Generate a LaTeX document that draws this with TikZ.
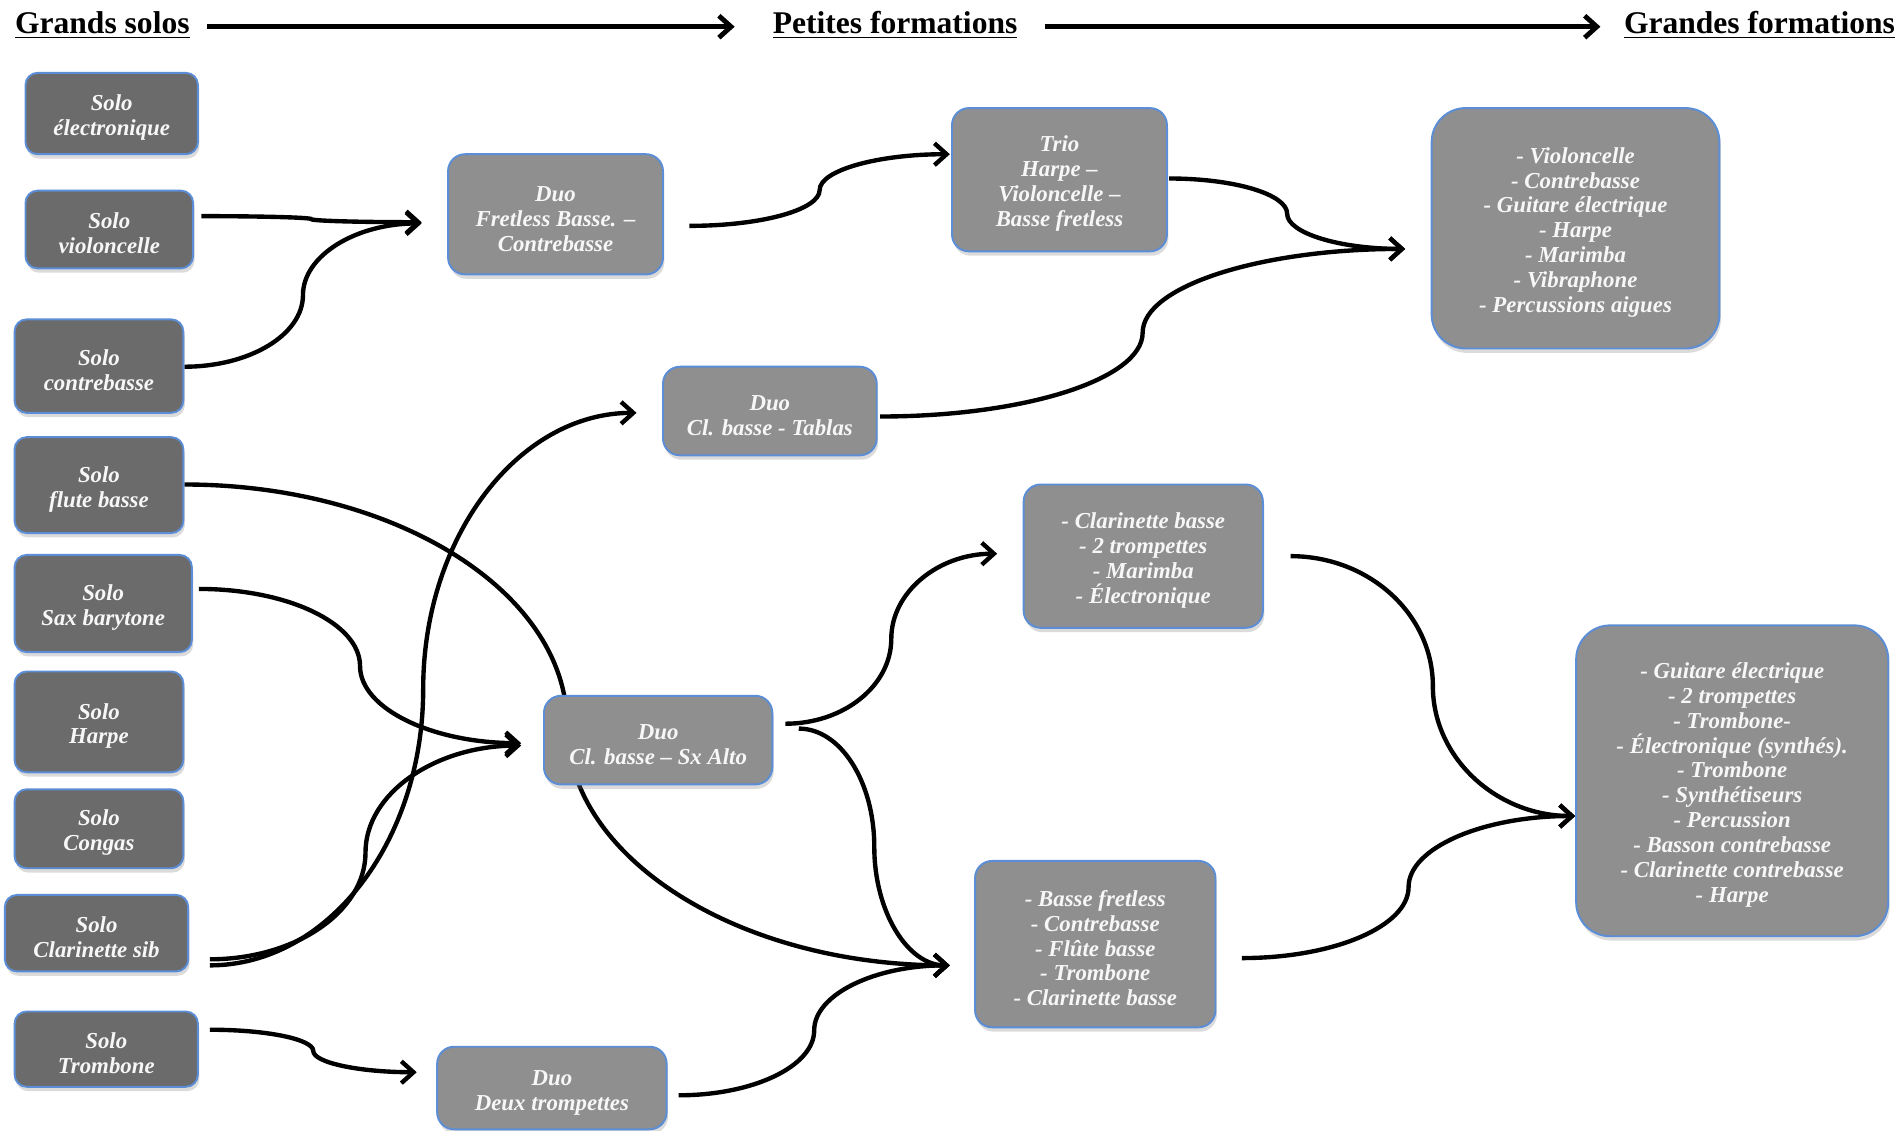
\documentclass[tikz,border=0pt]{standalone}
\usepackage{fontspec}
\setmainfont{Liberation Serif}
\usetikzlibrary{arrows.meta,shadows,calc}
\definecolor{darkbox}{HTML}{6B6B6B}
\definecolor{lightbox}{HTML}{8F8F8F}
\definecolor{boxborder}{HTML}{5B8ED6}
\definecolor{boxtext}{HTML}{F7F7F7}
\newcommand\tu{\rule{0pt}{9.9pt}}
\pgfdeclarelayer{bg}
\pgfdeclarelayer{conns}
\pgfsetlayers{bg,conns,main}
\begin{document}
\begin{tikzpicture}[x=0.5pt,y=-0.5pt,
  sz/.style 2 args={minimum width=#1*0.5pt, minimum height=#2*0.5pt},
  boxbase/.style={draw=boxborder, line width=0.8pt, text=boxtext, align=center,
     font=\fontsize{9.4}{10.25}\selectfont\bfseries\itshape, inner sep=0pt,
     drop shadow={shadow xshift=0.6pt, shadow yshift=-1.8pt, opacity=0.28}},
  solobox/.style={boxbase, fill=darkbox, rounded corners=5pt},
  duobox/.style={boxbase, fill=lightbox, rounded corners=7pt},
  bigbox/.style={boxbase, fill=lightbox, rounded corners=14pt},
  conn/.style={line width=1.8pt, -{Straight Barb[length=5pt,width=9pt]},
    to path={let \p1=(\tikztostart), \p2=(\tikztotarget), \p3=($(\p1)!0.5!(\p2)$) in
      .. controls ($(\p1)!0.5523!(\x3,\y1)$) and ($(\p3)!0.5523!(\x3,\y1)$) .. (\p3)
      .. controls ($(\p3)!0.5523!(\x3,\y2)$) and ($(\p2)!0.5523!(\x3,\y2)$) .. (\p2) \tikztonodes}},
  header/.style={font=\fontsize{13}{15}\selectfont\bfseries, inner sep=0pt, anchor=base west},
  headarrow/.style={line width=2pt, -{Straight Barb[length=5pt,width=9pt]}},
]
\useasboundingbox (0,0) rectangle (1568,931);
\begin{pgfonlayer}{bg}
  \fill[white] (0,0) rectangle (1568,931);
\end{pgfonlayer}

% headers
\node[header] (h1) at (12,28) {\underline{Grands solos}};
\node[header] (h2) at (636,28) {\underline{Petites formations}};
\node[header] (h3) at (1337,28) {\underline{Grandes formations}};
\draw[headarrow] ($(h1.base east)+(14,-6)$) -- ($(h2.base west)+(-31,-6)$);
\draw[headarrow] ($(h2.base east)+(22,-6)$) -- ($(h3.base west)+(-19,-6)$);

% solo boxes
\node[solobox, sz={142}{67}] (se) at (92,93.5) {\tu Solo\\électronique};
\node[solobox, sz={138}{64}] (sv) at (90,189) {\tu Solo\\violoncelle};
\node[solobox, sz={139}{77}] (sc) at (81.5,301.5) {\tu Solo\\contrebasse};
\node[solobox, sz={139}{79}] (sf) at (81.5,399.5) {\tu Solo\\flute basse};
\node[solobox, sz={146}{80}] (ss) at (85,497) {\tu Solo\\Sax barytone};
\node[solobox, sz={139}{83}] (sh) at (81.5,594.5) {\tu Solo\\Harpe};
\node[solobox, sz={139}{65}] (sg) at (81.5,682.5) {\tu Solo\\Congas};
\node[solobox, sz={151}{63}] (scl) at (79.5,768.5) {\tu Solo\\Clarinette sib};
\node[solobox, sz={151}{62}] (st) at (87.5,864) {\tu Solo\\Trombone};

% formations
\node[duobox, sz={177}{99}] (duof) at (457.5,176.5) {\tu Duo\\Fretless Basse. –\\Contrebasse};
\node[duobox, sz={177}{118}] (trio) at (872.5,148) {\tu Trio\\Harpe –\\Violoncelle –\\Basse fretless};
\node[bigbox, sz={237}{198}] (gt) at (1297.5,188) {\tu - Violoncelle\\- Contrebasse\\- Guitare électrique\\- Harpe\\- Marimba\\- Vibraphone\\- Percussions aigues};
\node[duobox, sz={176}{73}] (dt) at (634,338.5) {\tu Duo\\Cl. basse - Tablas};
\node[duobox, sz={197}{118}] (cb) at (941.5,458) {\tu - Clarinette basse\\- 2 trompettes\\- Marimba\\- Électronique};
\node[duobox, sz={188}{73}] (dsx) at (542,609.5) {\tu Duo\\Cl. basse – Sx Alto};
\node[duobox, sz={198}{137}] (bf) at (902,777.5) {\tu - Basse fretless\\- Contrebasse\\- Flûte basse\\- Trombone\\- Clarinette basse};
\node[bigbox, sz={257}{256}] (gb) at (1426.5,643) {\tu - Guitare électrique\\- 2 trompettes\\- Trombone-\\- Électronique (synthés).\\- Trombone\\- Synthétiseurs\\- Percussion\\- Basson contrebasse\\- Clarinette contrebasse\\- Harpe};
\node[duobox, sz={189}{68}] (dtr) at (454.5,896) {\tu Duo\\Deux trompettes};

% connectors
\begin{pgfonlayer}{conns}
\draw[conn] ($(sv.east)+(6,-11)$) to ($(duof.west)+(-21,6.5)$);
\draw[conn] ($(sc.east)+(0,0.5)$) to ($(duof.west)+(-21,7.5)$);
\draw[conn] ($(duof.east)+(21,9.5)$) to ($(trio.west)+(-1,-21)$);
\draw[conn] ($(trio.east)+(1,-1)$) to ($(gt.west)+(-21,17)$);
\draw[conn] ($(dt.east)+(2,4.5)$) to ($(gt.west)+(-21,17)$);
\draw[conn] ($(sf.east)+(0,-0.5)$) to ($(bf.west)+(-20,17.5)$);
\draw[conn] ($(ss.east)+(5,-12)$) to ($(dsx.west)+(-18,2.5)$);
\draw[conn] ($(scl.east)+(17,21.5)$) to ($(dsx.west)+(-18,4.5)$);
\draw[conn] ($(scl.east)+(17,26.5)$) to ($(dt.west)+(-21,1.5)$);
\draw[conn] ($(dsx.east)+(10,-13.5)$) to ($(cb.west)+(-21,-2)$);
\draw[conn] ($(dsx.east)+(21,-9.5)$) to ($(bf.west)+(-20,17.5)$);
\draw[conn] ($(st.east)+(9,-16)$) to ($(dtr.west)+(-16,-13)$);
\draw[conn] ($(dtr.east)+(9,6)$) to ($(bf.west)+(-20,17.5)$);
\draw[conn] ($(cb.east)+(22,0)$) to ($(gb.west)+(0,29)$);
\draw[conn] ($(bf.east)+(21,11.5)$) to ($(gb.west)+(0,29)$);
\end{pgfonlayer}
\end{tikzpicture}
\end{document}
